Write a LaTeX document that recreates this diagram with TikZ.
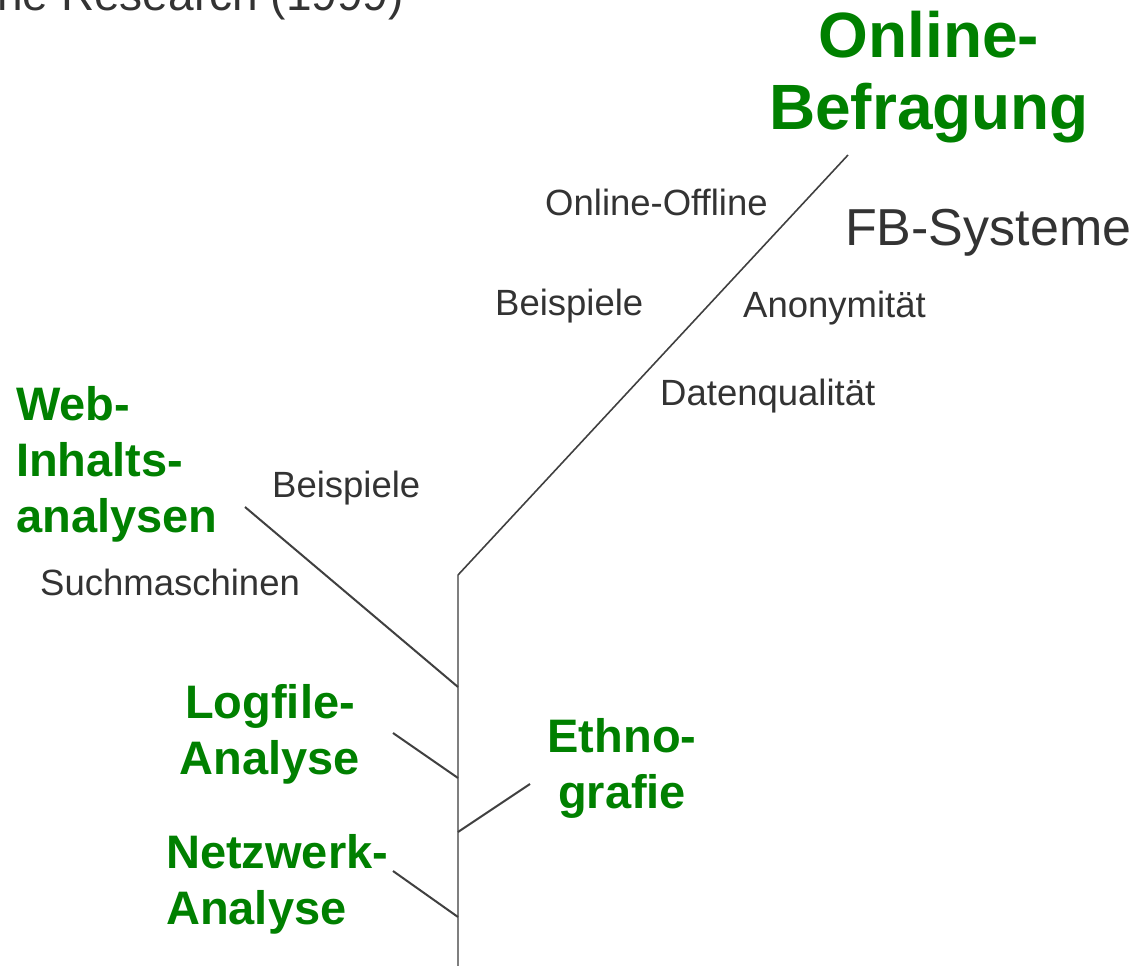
\documentclass[tikz,border=0pt]{standalone}
\usepackage{fontspec}
\setmainfont[Ligatures=NoCommon]{Liberation Sans}
\definecolor{grn}{HTML}{008000}
\definecolor{txt}{HTML}{333333}
\definecolor{trunkcol}{HTML}{7F7F7F}
\definecolor{branchcol}{HTML}{404040}
\newcommand{\mlc}[1]{\begin{tabular}[t]{@{}c@{}}#1\end{tabular}}
\newcommand{\mll}[1]{\begin{tabular}[t]{@{}l@{}}#1\end{tabular}}
\begin{document}
\begin{tikzpicture}[x=1pt,y=-1pt,
  big/.style={text=grn, font=\fontsize{64}{72}\bfseries\selectfont, inner sep=0pt},
  topic/.style={text=grn, font=\fontsize{47}{56}\bfseries\selectfont, inner sep=0pt},
  sub/.style={text=txt, font=\fontsize{36.5}{44}\selectfont, inner sep=0pt},
  mid/.style={text=txt, font=\fontsize{52}{60}\selectfont, inner sep=0pt},
  trunkline/.style={draw=trunkcol, line width=2pt},
  branchline/.style={draw=branchcol, line width=2pt}]
\useasboundingbox (0,0) rectangle (1138,966);

% title (cut off at the page edge)
\node[text=txt, font=\fontsize{46}{52}\selectfont, inner sep=0pt, anchor=base east] (title) at (404,11) {Online Research (1999)};

% main labels
\node[big, anchor=base] (online) at (929,58) {\mlc{Online-\\Befragung}};
\node[mid, anchor=base west] (fbs) at (845,245) {FB-Systeme};
\node[sub, anchor=base west] (onoff) at (545,215) {Online-Offline};
\node[sub, anchor=base west] (bsp1) at (495,315) {Beispiele};
\node[sub, anchor=base west] (anon) at (743,317) {Anonymität};
\node[sub, anchor=base west] (dq) at (660,405) {Datenqualität};

\node[topic, anchor=base west] (web) at (16,420) {\mll{Web-\\Inhalts-\\analysen}};
\node[sub, anchor=base west] (bsp2) at (272,497) {Beispiele};
\node[sub, anchor=base west] (such) at (40,595) {Suchmaschinen};

\node[topic, anchor=base] (log) at (270,718) {\mlc{Logfile-\\Analyse}};
\node[topic, anchor=base] (eth) at (622,752) {\mlc{Ethno-\\grafie}};
\node[topic, anchor=base west] (netz) at (166,868) {\mll{Netzwerk-\\Analyse}};

% tree
\coordinate (ttop) at (458,575);
\coordinate (tbot) at (458,966);
\coordinate (otip) at (848,155);
\coordinate (wtip) at (245,507);
\coordinate (wj) at (458,687);
\coordinate (ltip) at (393,733);
\coordinate (lj) at (458,778);
\coordinate (ej) at (458,832);
\coordinate (etip) at (530,784);
\coordinate (ntip) at (393,871);
\coordinate (nj) at (458,917);

\draw[trunkline] (ttop) -- (tbot);
\draw[branchline, line width=1.6pt] (ttop) -- (otip);
\draw[branchline] (wtip) -- (wj);
\draw[branchline] (ltip) -- (lj);
\draw[branchline] (ej) -- (etip);
\draw[branchline] (ntip) -- (nj);
\end{tikzpicture}
\end{document}
